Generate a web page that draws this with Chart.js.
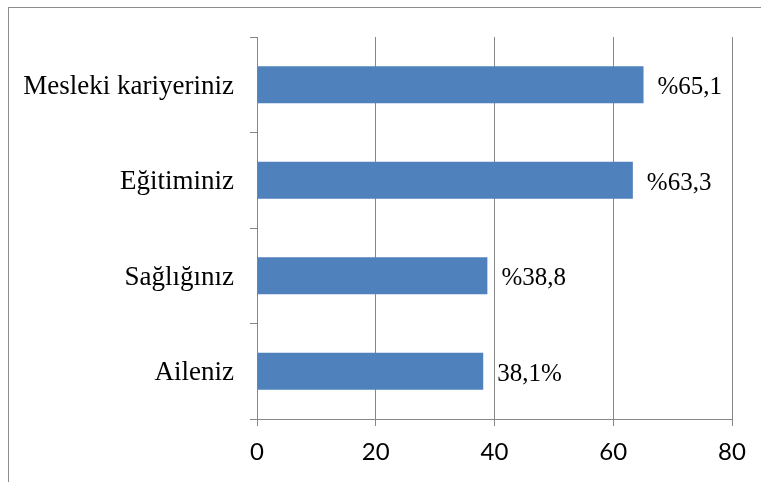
<!DOCTYPE html>
<html>
<head>
<meta charset="utf-8">
<script src="https://cdn.jsdelivr.net/npm/chart.js@4"></script>
<style>
  html, body { margin: 0; padding: 0; background: #fff; }
  #wrap { position: relative; width: 761px; height: 482px; }
  #frame { position: absolute; left: 8px; top: 7px; right: 0; bottom: 0;
           border-left: 1px solid #8c8c8c; border-top: 1px solid #8c8c8c; }
</style>
</head>
<body>
<div id="wrap">
  <div id="frame"></div>
  <canvas id="myChart"></canvas>
</div>
<script>
const categories = ['Mesleki kariyeriniz', 'Eğitiminiz', 'Sağlığınız', 'Aileniz'];
const values = [65.1, 63.3, 38.8, 38.1];
const valueLabels = ['%65,1', '%63,3', '%38,8', '38,1%'];
const xTicks = [0, 20, 40, 60, 80];

const gridGray = '#868686';

// writes the value text just right of each bar
const barText = {
    id: 'barText',
    afterDatasetsDraw(chart) {
        const ctx = chart.ctx;
        const meta = chart.getDatasetMeta(0);
        ctx.save();
        ctx.font = '25px "Liberation Serif", "Times New Roman", serif';
        ctx.fillStyle = '#000';
        ctx.textBaseline = 'middle';
        ctx.textAlign = 'left';
        meta.data.forEach((bar, i) => {
            ctx.fillText(valueLabels[i], bar.x + 14, bar.y + 3);
        });
        ctx.restore();
    }
};

const data = {
    labels: categories,
    datasets: [{
        data: values,
        backgroundColor: '#4F81BD',
        borderWidth: 0,
        barPercentage: 0.39,
        categoryPercentage: 1
    }]
};

const config = {
    type: 'bar',
    data: data,
    options: {
        indexAxis: 'y',
        responsive: false,
        animation: false,
        layout: { padding: { top: 37, right: 29, left: 0, bottom: 0 } },
        plugins: {
            legend: { display: false },
            tooltip: { enabled: false }
        },
        scales: {
            x: {
                min: 0,
                max: 80,
                afterBuildTicks: (scale) => { scale.ticks = xTicks.map(v => ({ value: v })); },
                afterFit: (scale) => { scale.height = 63; },
                grid: { color: gridGray, lineWidth: 1, tickLength: 7, drawTicks: true },
                border: { color: gridGray, width: 1 },
                ticks: {
                    color: '#000',
                    padding: 12,
                    font: { family: 'Lato, "Open Sans", sans-serif', size: 24 }
                }
            },
            y: {
                afterFit: (scale) => { scale.width = 257; },
                grid: { offset: true, drawOnChartArea: false, color: gridGray, tickLength: 7 },
                border: { color: gridGray, width: 1 },
                ticks: {
                    color: '#000',
                    padding: 16,
                    labelOffset: 2,
                    font: { family: '"Liberation Serif", "Times New Roman", serif', size: 27 }
                }
            }
        }
    },
    plugins: [barText]
};

const canvas = document.getElementById('myChart');
canvas.width = 761;
canvas.height = 482;
// eslint-disable-next-line
const myChart = new Chart(canvas, config);
</script>
</body>
</html>
